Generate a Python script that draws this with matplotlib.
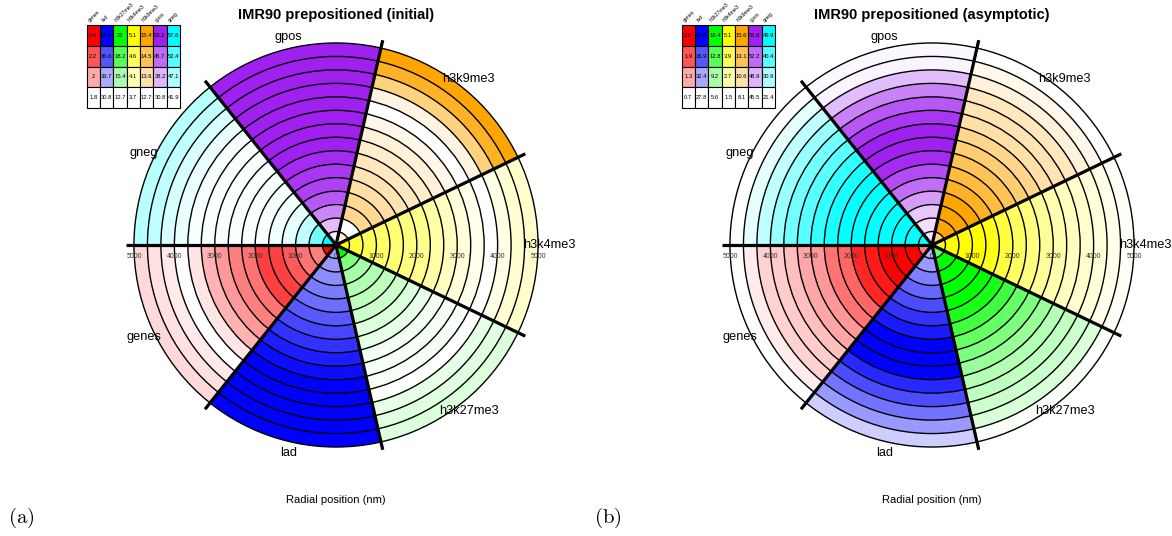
import numpy as np
import matplotlib.pyplot as plt
from matplotlib.patches import Wedge, Circle, Rectangle
from matplotlib.colors import to_rgb

plt.rcParams['font.family'] = ['Liberation Sans', 'DejaVu Sans']
plt.rcParams['mathtext.fontset'] = 'cm'

marks = ['genes', 'lad', 'h3k27me3', 'h3k4me3', 'h3k9me3', 'gpos', 'gneg']
colours = ['#FF0000', '#0000FF', '#00FF00', '#FFFF00', '#FFA500', '#A020F0', '#00FFFF']
ticks = [1000, 2000, 3000, 4000, 5000]

# colour key (full colour row -> white row), one list per mark
key_initial = [[2.4, 2.2, 2, 1.8], [39.5, 36.6, 33.7, 30.8], [21, 18.2, 15.4, 12.7],
               [5.1, 4.6, 4.1, 3.7], [15.4, 14.5, 13.6, 12.7], [53.2, 45.7, 38.2, 30.8],
               [57.6, 52.4, 47.1, 41.9]]
key_asym = [[2.5, 1.9, 1.3, 0.7], [41.5, 36.9, 32.4, 27.8], [16.4, 12.8, 9.2, 5.6],
            [5.1, 3.9, 2.7, 1.5], [15.6, 13.1, 10.6, 8.1], [55.6, 52.2, 48.9, 45.5],
            [49.9, 40.4, 30.9, 21.4]]

# value per radial shell (innermost first), initial configuration
init_genes = [2.40, 2.10, 2.13, 2.19, 2.25, 2.25, 2.13, 2.10, 2.04, 1.98, 1.86, 1.80, 1.85, 1.87, 1.89]
init_lad = [33.8, 34.3, 34.7, 35.3, 35.8, 36.5, 37.1, 37.8, 38.5, 39.1, 39.6, 39.8, 40.0, 40.1, 40.2]
init_k27 = [21.0, 16.9, 15.6, 15.2, 14.8, 14.4, 13.9, 13.5, 13.1, 13.0, 12.9, 12.7, 13.5, 13.7, 13.9]
init_k4 = [5.10, 4.75, 4.61, 4.54, 4.47, 4.40, 4.33, 4.19, 4.05, 3.91, 3.81, 3.70, 3.84, 3.95, 3.98]
init_k9 = [13.2, 12.7, 13.9, 13.83, 13.65, 13.51, 13.38, 13.24, 13.11, 12.92, 12.70, 13.02, 14.05, 15.0, 15.4]
init_gpos = [31.9, 37.5, 43.1, 47.6, 49.8, 51.0, 52.1, 53.2, 53.5, 53.6, 53.5, 53.4, 53.3, 53.2, 53.4]
init_gneg = [57.6, 50.5, 45.8, 43.5, 42.7, 42.4, 42.4, 42.2, 42.2, 42.2, 42.4, 43.2, 44.3, 45.8, 46.3]

# asymptotic configuration
asym_genes = [1.6, 2.5, 2.6, 2.5, 2.32, 2.23, 1.78, 1.69, 1.42, 1.33, 1.15, 1.06, 1.02, 0.84, 0.70]
asym_lad = [31.9, 33.3, 34.7, 36.0, 37.4, 38.8, 40.1, 41.5, 41.8, 41.6, 39.4, 37.4, 35.3, 33.3, 30.5]
asym_k27 = [12.1, 16.4, 16.6, 16.5, 16.4, 15.3, 13.7, 12.1, 11.0, 9.9, 8.8, 8.3, 7.8, 7.2, 5.8]
asym_k4 = [5.3, 5.2, 5.1, 5.1, 4.74, 4.2, 3.73, 3.3, 2.94, 2.65, 2.4, 2.22, 2.04, 1.79, 1.61]
asym_k9 = [11.85, 15.6, 15.8, 15.7, 14.5, 13.7, 13.0, 12.2, 11.5, 10.7, 10.35, 10.0, 9.2, 8.7, 8.1]
asym_gpos = [46.5, 47.0, 48.0, 50.0, 52.1, 53.6, 55.1, 55.6, 55.7, 54.6, 53.1, 51.1, 48.5, 46.0, 45.8]
asym_gneg = [50.5, 50.2, 50.0, 50.1, 49.9, 50.0, 49.9, 47.1, 44.2, 39.9, 37.1, 32.8, 28.5, 24.3, 21.4]

rings_initial = [init_genes, init_lad, init_k27, init_k4, init_k9, init_gpos, init_gneg]
rings_asym = [asym_genes, asym_lad, asym_k27, asym_k4, asym_k9, asym_gpos, asym_gneg]

R = 5000.0
NM = 24.75  # nm per pixel


def shade(base, v, key):
    s = np.clip((v - key[-1]) / (key[0] - key[-1]), 0, 1)
    return tuple(1 - s * (1 - np.array(to_rgb(base))))


def draw_panel(ax_rect, cx_px, title, rings, key, letter, tx0):
    ax = fig.add_axes(ax_rect)
    ax.set_xlim(-cx_px * NM, (586 - cx_px) * NM)
    ax.set_ylim(-291 * NM, 245 * NM)
    ax.axis('off')
    nshell = len(rings[0])
    dr = R / nshell
    step = 360 / len(marks)
    for i, m in enumerate(marks):
        t1 = 180 + i * step
        for k, v in enumerate(rings[i]):
            ax.add_patch(Wedge((0, 0), (k + 1) * dr, t1, t1 + step, width=dr,
                               facecolor=shade(colours[i], v, key[i]), edgecolor='none'))
        mid = np.radians(t1 + step / 2)
        ax.text(5270 * np.cos(mid), 5270 * np.sin(mid), m, ha='center', va='center', fontsize=9.2)
    for k in range(1, nshell + 1):
        ax.add_patch(Circle((0, 0), k * dr, fill=False, edgecolor='black', lw=1.0))
    for i in range(len(marks)):
        a = np.radians(180 + i * step)
        ax.plot([0, 5200 * np.cos(a)], [0, 5200 * np.sin(a)], color='black', lw=2.3,
                solid_capstyle='butt')
    ax.text(0, -280, '0', ha='center', va='center', fontsize=5, color='#333333')
    for t in ticks:
        for sgn in (-1, 1):
            ax.text(sgn * t, -280, str(t), ha='center', va='center', fontsize=5, color='#333333')
    ax.text(0, (245 - 15) * NM, title, ha='center', va='center', fontsize=10.5, weight='bold')
    ax.text(0, (245 - 500) * NM, 'Radial position (nm)', ha='center', va='center', fontsize=8)
    fig.text(ax_rect[0] + 8 / 1172, 1 - 518 / 536, r'$\mathrm{(' + letter + ')}$',
             ha='left', va='center', fontsize=15)

    # colour key table
    tax = fig.add_axes([tx0 / 1172, (536 - 108) / 536, 93.5 / 1172, 83 / 536])
    tax.set_xlim(0, 7)
    tax.set_ylim(4, 0)
    tax.axis('off')
    for i, m in enumerate(marks):
        for r, v in enumerate(key[i]):
            tax.add_patch(Rectangle((i, r), 1, 1, facecolor=shade(colours[i], v, key[i]),
                                    edgecolor='black', lw=0.8, clip_on=False))
            tax.text(i + 0.5, r + 0.5, f'{v:g}', ha='center', va='center', fontsize=4.2)
        tax.text(i + 0.3, -0.1, m, rotation=45, ha='left', va='bottom', fontsize=3.8,
                 rotation_mode='anchor')


fig = plt.figure(figsize=(11.72, 5.36), dpi=100)
draw_panel([0, 0, 0.5, 1], 336, 'IMR90 prepositioned (initial)', rings_initial, key_initial, 'a', 86.5)
draw_panel([0.5, 0, 0.5, 1], 346, 'IMR90 prepositioned (asymptotic)', rings_asym, key_asym, 'b', 681.5)

fig.savefig('out.png', dpi=100)
